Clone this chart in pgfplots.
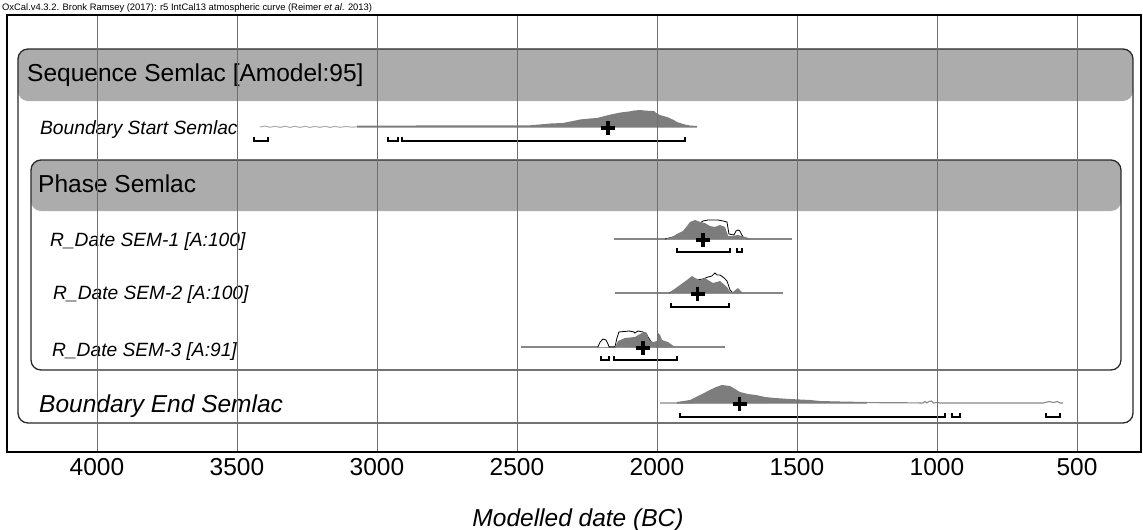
\documentclass[border=0pt]{standalone}
\usepackage{fontspec}
\setmainfont{Liberation Sans}
\usepackage{pgfplots}
\pgfplotsset{compat=1.18}
\definecolor{hdr}{RGB}{172,172,172}
\definecolor{post}{RGB}{125,125,125}
\definecolor{lin}{RGB}{135,135,135}
\definecolor{grd}{RGB}{110,110,110}
\definecolor{frm}{RGB}{40,40,40}
\pgfplotsset{cross/.style={only marks, mark=+, mark size=7pt, mark options={line width=3.2pt, black}},
  rng/.style={black, line width=1.8pt}}
\begin{document}
\begin{tikzpicture}
\useasboundingbox (-7pt,-78pt) rectangle (1136pt,452pt);
\begin{axis}[
  at={(0,0)}, anchor=south west,
  scale only axis, width=1134pt, height=437pt,
  x dir=reverse, xmin=271.43, xmax=4321.43,
  y dir=reverse, ymin=15, ymax=452,
  xtick={500,1000,...,4000}, ytick=\empty,
  xmajorgrids, major grid style={grd, line width=0.7pt},
  major tick length=0pt,
  axis line style={black, line width=1.3pt},
  tick label style={font=\fontsize{24.5}{28}\selectfont},
  /pgf/number format/assume math mode=true,
  /pgf/number format/1000 sep={},
  xticklabel style={yshift=-3pt},
  clip=false, axis on top,
]
% group boxes
\fill[hdr, rounded corners=10pt] (axis cs:4282.1,49) rectangle (axis cs:300,101);
\draw[frm, line width=1.3pt, rounded corners=10pt] (axis cs:4282.1,49) rectangle (axis cs:300,423);
\fill[hdr, rounded corners=10pt] (axis cs:4235.7,160) rectangle (axis cs:342.9,211);
\draw[frm, line width=1.3pt, rounded corners=10pt] (axis cs:4235.7,160) rectangle (axis cs:342.9,370);

% labels
\node[anchor=base west, font=\fontsize{24.5}{28}\selectfont, inner sep=0] at (axis cs:4250,81) {Sequence Semlac [Amodel:95]};
\node[anchor=base west, font=\fontsize{19.2}{22}\selectfont\itshape, inner sep=0] at (axis cs:4203.6,134) {Boundary Start Semlac};
\node[anchor=base west, font=\fontsize{24.5}{28}\selectfont, inner sep=0] at (axis cs:4210.7,192) {Phase Semlac};
\node[anchor=base west, font=\fontsize{19.2}{22}\selectfont\itshape, inner sep=0] at (axis cs:4167.9,246) {R\_Date SEM-1 [A:100]};
\node[anchor=base west, font=\fontsize{19.2}{22}\selectfont\itshape, inner sep=0] at (axis cs:4157,299) {R\_Date SEM-2 [A:100]};
\node[anchor=base west, font=\fontsize{19.2}{22}\selectfont\itshape, inner sep=0] at (axis cs:4160.7,356) {R\_Date SEM-3 [A:91]};
\node[anchor=base west, font=\fontsize{24.5}{28}\selectfont\itshape, inner sep=0] at (axis cs:4207,412) {Boundary End Semlac};
\node[anchor=base west, font=\fontsize{9.4}{10}\selectfont, inner sep=0] at (axis cs:4339.3,10) {OxCal.v4.3.2. Bronk Ramsey (2017): r5 IntCal13 atmospheric curve (Reimer \textit{et al}. 2013)};
\node[anchor=base, font=\fontsize{24.5}{28}\selectfont\itshape, inner sep=0] at (axis cs:2282,526) {Modelled date (BC)};

% ---------- Boundary Start Semlac (baseline 127)
\addplot[lin!70, line width=1pt] coordinates {(3418,127)(3400,126)(3382,127.3)(3364,126.2)(3346,127.4)(3328,126.2)(3311,127.4)(3293,126.3)(3275,127.4)(3257,126.3)(3239,127.4)(3221,126.3)(3204,127.4)(3186,126.3)(3168,127.4)(3150,126.4)(3132,127.3)(3110,126.4)(3090,127.2)(3071,126.8)};
\addplot[fill=post, draw=none] coordinates {(3071,127.6)(3071,125.6)(2454,125.3)(2420,124.5)(2380,123.5)(2336,123)(2300,121)(2275,119.5)(2240,118.5)(2214,118)(2180,115.5)(2157,114)(2130,112.5)(2100,111.5)(2080,110.5)(2061,110)(2045,110.5)(2030,110.8)(2010,111)(2003,113)(1990,115)(1964,117)(1940,120)(1929,122)(1900,124.5)(1882,125.5)(1857,126)(1857,127.6)};
\addplot[rng] coordinates {(3439,137)(3439,141)(3389,141)(3389,137)};
\addplot[rng] coordinates {(2961,137)(2961,141)(2925,141)(2925,137)};
\addplot[rng] coordinates {(2911,137)(2911,141)(1900,141)(1900,137)};
\addplot[cross] coordinates {(2175,128)};

% ---------- SEM-1 (baseline 239)
\addplot[lin, line width=1.3pt] coordinates {(2154,239)(1518,239)};
\addplot[fill=white, draw=black, line width=0.8pt] coordinates {(1971,239)(1900,234)(1864,227)(1846,223)(1836,221)(1818,220)(1800,220)(1782,220)(1764,221)(1750,222)(1743,234)(1725,235)(1718,231)(1711,230)(1704,231)(1693,237)(1680,239)};
\addplot[fill=post, draw=none] coordinates {(1971,239)(1946,237)(1929,234)(1907,231)(1893,226)(1882,222)(1864,220)(1846,222)(1829,223)(1811,226)(1793,227)(1775,225)(1757,227)(1746,236)(1729,236)(1711,235)(1686,237)(1657,239)};
\addplot[rng] coordinates {(1929,248)(1929,252)(1739,252)(1739,248)};
\addplot[rng] coordinates {(1714,248)(1714,252)(1696,252)(1696,248)};
\addplot[cross] coordinates {(1836,240)};

% ---------- SEM-2 (baseline 293)
\addplot[lin, line width=1.3pt] coordinates {(2150,293)(1550,293)};
\addplot[fill=white, draw=black, line width=0.8pt] coordinates {(1957,293)(1900,285)(1860,280)(1836,279)(1818,277)(1804,276)(1793,273)(1785,275)(1775,275)(1760,278)(1750,281)(1739,290)(1729,293)};
\addplot[fill=post, draw=none] coordinates {(1957,293)(1918,285)(1893,280)(1875,276)(1864,278)(1846,280)(1829,278)(1818,280)(1800,283)(1775,281)(1750,287)(1739,292)(1729,292)(1711,288)(1693,293)};
\addplot[rng] coordinates {(1950,303)(1950,307)(1743,307)(1743,303)};
\addplot[cross] coordinates {(1854,294)};

% ---------- SEM-3 (baseline 347)
\addplot[lin, line width=1.3pt] coordinates {(2486,347)(1757,347)};
\addplot[fill=white, draw=black, line width=0.8pt] coordinates {(2211,347)(2203,342)(2193,339)(2182,340)(2175,344)(2171,347)(2150,347)(2143,338)(2136,332)(2100,331)(2082,332)(2079,333)(2068,331)(2050,332)(2040,333)(2030,338)(2020,342)(2000,347)};
\addplot[fill=post, draw=none] coordinates {(2150,347)(2139,341)(2114,338)(2079,337)(2054,333)(2043,332)(2036,333)(2029,340)(2014,342)(2000,341)(1996,333)(1989,335)(1982,340)(1961,342)(1936,347)};
\addplot[rng] coordinates {(2200,356)(2200,360)(2171,360)(2171,356)};
\addplot[rng] coordinates {(2154,356)(2154,360)(1929,360)(1929,356)};
\addplot[cross] coordinates {(2050,348)};

% ---------- Boundary End Semlac (baseline 403)
\addplot[lin, line width=1.1pt] coordinates {(1989,403)(1929,403)(1400,402.5)(1100,402.8)(1050,403)(1043,401.5)(1036,403)(1029,401.5)(1020,401)(1012,403)(1000,402.5)(990,403)(900,403)(620,403)(600,401.5)(585,402.5)(570,401.5)(560,403)(550,403)};
\addplot[fill=post, draw=none] coordinates {(1929,403.5)(1929,402)(1882,400)(1846,395)(1811,390)(1789,387)(1768,385)(1739,386)(1721,389)(1704,392)(1675,394)(1646,395)(1614,397)(1579,398)(1525,399)(1489,399.5)(1454,400)(1418,401)(1346,401.5)(1250,402)(1250,403.5)};
\addplot[rng] coordinates {(1918,413)(1918,417)(971,417)(971,413)};
\addplot[rng] coordinates {(946,413)(946,417)(918,417)(918,413)};
\addplot[rng] coordinates {(611,413)(611,417)(561,417)(561,413)};
\addplot[cross] coordinates {(1704,404)};
\end{axis}
\end{tikzpicture}
\end{document}
